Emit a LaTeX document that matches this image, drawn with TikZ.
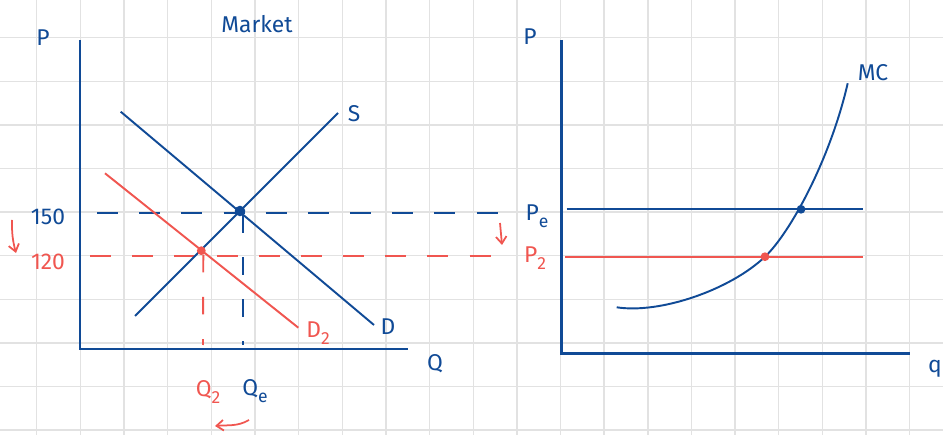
\documentclass[tikz,border=0pt]{standalone}
\usepackage{fontspec}
\setmainfont{Fira Sans}
\usetikzlibrary{arrows.meta}

\definecolor{inkblue}{RGB}{16,74,150}
\definecolor{inkred}{RGB}{240,86,80}
\definecolor{gridgray}{RGB}{226,226,226}

\newcommand{\lowsub}[1]{\raisebox{-0.55ex}{\fontsize{10}{12}\selectfont #1}}

\tikzset{
  axis/.style={inkblue,line width=1.6pt},
  curve/.style={line width=1.1pt},
  guide/.style={line width=1.1pt,dash pattern=on 12pt off 12pt},
  lbl/.style={inner sep=0pt,font=\fontsize{13}{15}\selectfont},
  dot/.style={circle,fill,inner sep=0pt,minimum size=#1},
  shiftarrow/.style={inkred,line width=1pt,-{Straight Barb[length=4pt,width=6pt]}}
}

\begin{document}
\begin{tikzpicture}[x=0.02cm,y=-0.02cm]
\useasboundingbox (0,0) rectangle (943,435);
% squared paper
\foreach \i in {-1,...,20} \draw[gridgray,line width=0.8pt] ({36.7+43.65*\i},0) -- ++(0,435);
\foreach \j in {-1,...,9} \draw[gridgray,line width=0.8pt] (0,{37.7+43.6*\j}) -- ++(943,0);

% market
\node[lbl,inkblue] (mkt) at (257,24) {Market};
\node[lbl,inkblue] (pmkt) at (43,38) {P};
\node[lbl,inkblue] (qmkt) at (435,364) {Q};
\draw[axis] (80,40) |- (408,349);
\coordinate (eq) at (240,211);
\coordinate (eqnew) at (201.3,250.7);
\draw[guide,inkblue] (97,212.7) -- (512,212.7);
\draw[guide,inkred] (90,256) -- (500,256);
\draw[guide,inkblue,dash pattern=on 10pt off 14pt] (eq) ++(3,4) -- (243,345);
\draw[guide,inkred,dash pattern=on 10pt off 14pt] (eqnew) ++(2,4) -- (203,345);
\draw[curve,inkblue] (135,316) -- (338,113);
\node[lbl,inkblue] (slbl) at (354,114) {S};
\draw[curve,inkblue] (120.7,111.7) -- (374,325);
\node[lbl,inkblue] (dlbl) at (388,327) {D};
\draw[curve,inkred] (105,173.3) -- (298.3,327.7);
\node[lbl,inkred] (d2lbl) at (318,333) {D\lowsub{2}};
\node[dot=6pt,inkblue] (eqdot) at (eq) {};
\node[dot=5pt,inkred] (eqnewdot) at (eqnew) {};
\node[lbl,inkblue] (p150) at (48,217) {150};
\node[lbl,inkred] (p120) at (48,262) {120};
\draw[shiftarrow] (12,220) to[bend right=8] (16,253);
\node[lbl,inkred] (q2lbl) at (208,392) {Q\lowsub{2}};
\node[lbl,inkblue] (qelbl) at (255,391) {Q\lowsub{e}};
\draw[shiftarrow] (249,420) to[out=-150,in=5] (215,426);

% firm
\node[lbl,inkblue] (pfirm) at (530,37) {P};
\node[lbl,inkblue] (qfirm) at (935,369) {q};
\draw[axis] (561.3,40) |- (910,353.7);
\coordinate (pe) at (801,209.3);
\coordinate (ptwo) at (765,256.7);
\draw[curve,inkblue] (566.7,209.3) -- (863.3,209.3);
\draw[curve,inkred] (565,256.7) -- (863,256.7);
\draw[curve,inkblue] (616.7,307.3) .. controls (660,314) and (730,290) .. (ptwo)
  .. controls (790,233) and (830,160) .. (847.7,83.3);
\node[lbl,inkblue] (mclbl) at (873,73) {MC};
\node[dot=5pt,inkblue] (pedot) at (pe) {};
\node[dot=5pt,inkred] (ptwodot) at (ptwo) {};
\node[lbl,inkblue] (pelbl) at (537,216) {P\lowsub{e}};
\node[lbl,inkred] (p2lbl) at (535,258) {P\lowsub{2}};
\draw[shiftarrow] (500,223) -- (502,245);
\end{tikzpicture}
\end{document}
